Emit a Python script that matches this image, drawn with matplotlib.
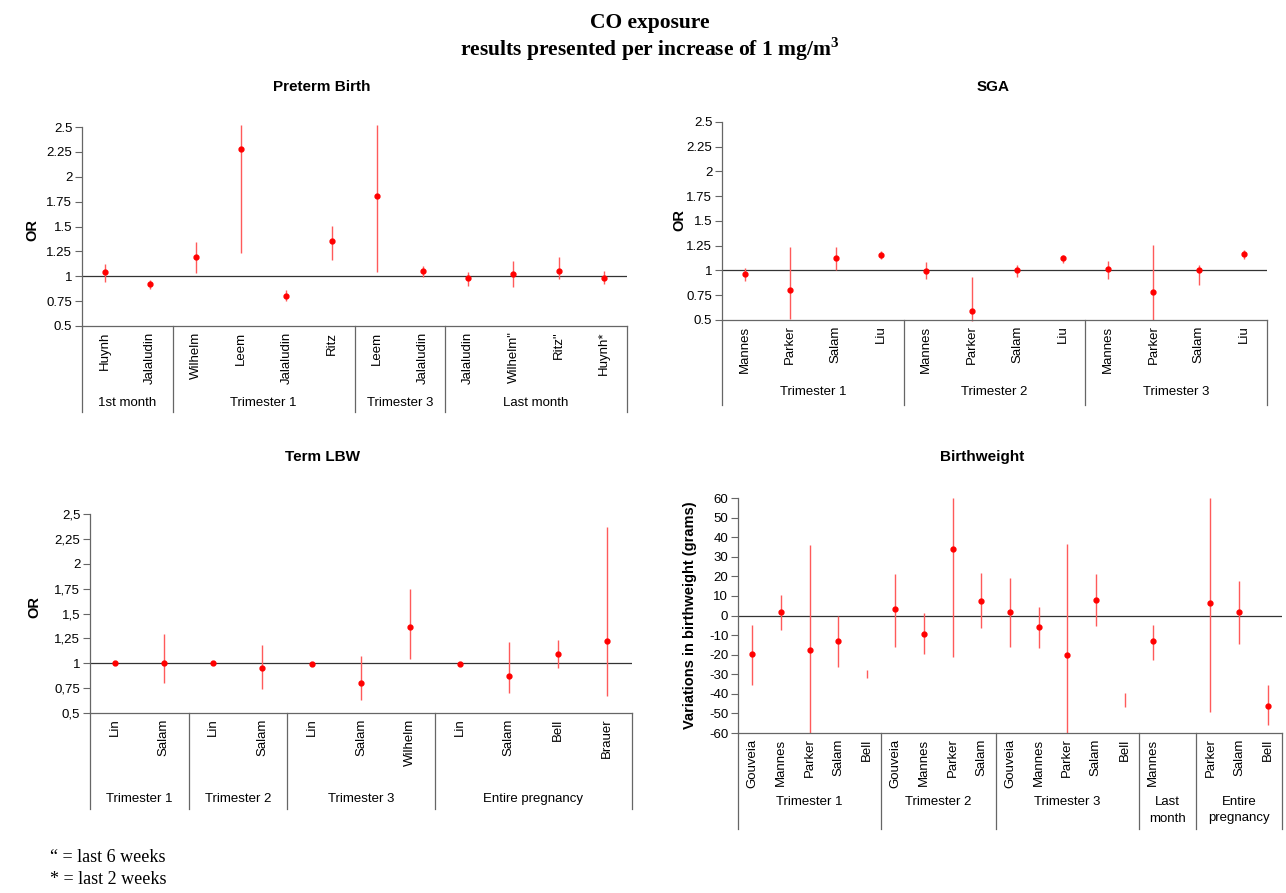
import numpy as np
import matplotlib
matplotlib.use("Agg")
from matplotlib import pyplot as plt
import matplotlib.transforms as mtransforms

plt.rcParams['font.family'] = ['Liberation Sans', 'DejaVu Sans']
plt.rcParams['axes.unicode_minus'] = False
plt.rcParams['mathtext.fontset'] = 'custom'
plt.rcParams['mathtext.bf'] = 'Liberation Serif:bold'
plt.rcParams['mathtext.rm'] = 'Liberation Serif'

# ---- data ----
# Preterm birth
pb_names = ["Huynh", "Jalaludin", "Wilhelm", "Leem", "Jalaludin", "Ritz",
            "Leem", "Jalaludin", "Jalaludin", "Wilhelm\"", "Ritz\"", "Huynh*"]
pb_groups = ["1st month", "Trimester 1", "Trimester 3", "Last month"]
pb_group_sizes = [2, 4, 2, 4]
pb_est = [1.04, 0.92, 1.19, 2.28, 0.80, 1.35, 1.81, 1.05, 0.98, 1.02, 1.05, 0.98]
pb_lo = [0.94, 0.87, 1.03, 1.23, 0.75, 1.16, 1.04, 0.99, 0.90, 0.89, 0.97, 0.92]
pb_hi = [1.12, 0.96, 1.34, 2.52, 0.86, 1.51, 2.52, 1.10, 1.04, 1.15, 1.19, 1.05]

# SGA
sga_names = ["Mannes", "Parker", "Salam", "Liu"] * 3
sga_groups = ["Trimester 1", "Trimester 2", "Trimester 3"]
sga_group_sizes = [4, 4, 4]
sga_est = [0.96, 0.80, 1.13, 1.16, 0.99, 0.59, 1.01, 1.13, 1.02, 0.78, 1.01, 1.17]
sga_lo = [0.89, 0.51, 1.00, 1.12, 0.91, 0.49, 0.93, 1.08, 0.91, 0.50, 0.85, 1.12]
sga_hi = [1.03, 1.24, 1.24, 1.20, 1.09, 0.93, 1.06, 1.16, 1.10, 1.26, 1.06, 1.21]

# Term LBW
lbw_names = ["Lin", "Salam", "Lin", "Salam", "Lin", "Salam", "Wilhelm",
             "Lin", "Salam", "Bell", "Brauer"]
lbw_groups = ["Trimester 1", "Trimester 2", "Trimester 3", "Entire pregnancy"]
lbw_group_sizes = [2, 2, 3, 4]
lbw_est = [1.00, 1.00, 1.00, 0.95, 0.99, 0.80, 1.36, 0.99, 0.87, 1.09, 1.22]
lbw_lo = [0.99, 0.80, 0.99, 0.74, 0.98, 0.63, 1.04, 0.98, 0.70, 0.95, 0.67]
lbw_hi = [1.01, 1.29, 1.01, 1.18, 1.00, 1.07, 1.75, 1.00, 1.21, 1.23, 2.37]
lbw_ticklabels = ["0,5", "0,75", "1", "1,25", "1,5", "1,75", "2", "2,25", "2,5"]

# Birthweight (the "Last month" block has an empty second slot)
bw_names = ["Gouveia", "Mannes", "Parker", "Salam", "Bell",
            "Gouveia", "Mannes", "Parker", "Salam",
            "Gouveia", "Mannes", "Parker", "Salam", "Bell",
            "Mannes", "",
            "Parker", "Salam", "Bell"]
bw_groups = ["Trimester 1", "Trimester 2", "Trimester 3", "Last\nmonth", "Entire\npregnancy"]
bw_group_sizes = [5, 4, 5, 2, 3]
bw_est = [-19.6, 1.7, -17.5, -13.1, np.nan, 3.1, -9.2, 34.1, 7.5,
          1.7, -5.8, -20.1, 8.0, np.nan, -13.1, np.nan, 6.5, 1.7, -46.0]
bw_lo = [-35.3, -7.5, -60, -26.4, -32, -16.2, -19.9, -21.3, -6.6,
         -16.2, -16.7, -60, -5.5, -46.5, -22.5, np.nan, -49.2, -14.3, -56]
bw_hi = [-4.6, 10.4, 35.8, -0.3, -28, 21.1, 1.5, 60, 21.6,
         19.4, 4.4, 36.3, 21.1, -39.4, -4.6, np.nan, 60, 17.5, -35.6]

or_ticklabels = ["0.5", "0.75", "1", "1.25", "1.5", "1.75", "2", "2.25", "2.5"]

W, H = 1286, 893
fig = plt.figure(figsize=(W / 100, H / 100), dpi=100)

RED = '#ff0000'
ERR = '#ff5a5a'
GREY = '#666666'


def px_axes(left, top, right, bottom):
    return fig.add_axes([left / W, 1 - bottom / H, (right - left) / W, (bottom - top) / H])


def panel(ax, names, est, lo, hi, groups, sizes, ylim, yticks, ref,
          sep_y, grp_y, grp_va='center', yticklabels=None):
    x = np.arange(len(names))
    ax.vlines(x, lo, hi, color=ERR, lw=1.0, clip_on=False, zorder=2)
    ax.plot(x, est, 'o', color=RED, ms=3.5, clip_on=False, zorder=3)
    ax.axhline(ref, color='#333333', lw=0.9, zorder=1)
    ax.set_xlim(-0.5, len(names) - 0.5)
    ax.set_ylim(*ylim)
    ax.set_yticks(yticks)
    if yticklabels is not None:
        ax.set_yticklabels(yticklabels)
    ax.set_xticks(x)
    ax.set_xticklabels(names, rotation=90, va='top', fontsize=9.5)
    ax.tick_params(axis='x', length=0, pad=4)
    ax.tick_params(axis='y', length=5, width=0.8, color=GREY, labelsize=9.5, pad=2)
    for s in ['top', 'right']:
        ax.spines[s].set_visible(False)
    for s in ['left', 'bottom']:
        ax.spines[s].set_color(GREY)
        ax.spines[s].set_linewidth(0.9)
    # category table below the axis
    trans = mtransforms.blended_transform_factory(ax.transData, ax.transAxes)
    edges = np.concatenate([[0], np.cumsum(sizes)]) - 0.5
    for e in edges:
        ax.plot([e, e], [0, sep_y], color=GREY, lw=0.9, transform=trans, clip_on=False)
    for g, a, b in zip(groups, edges[:-1], edges[1:]):
        ax.text((a + b) / 2, grp_y, g, transform=trans, ha='center', va=grp_va,
                fontsize=9.5, linespacing=1.45)


ax1 = px_axes(82, 127, 627, 326)
panel(ax1, pb_names, pb_est, pb_lo, pb_hi, pb_groups, pb_group_sizes,
      (0.5, 2.5), np.arange(0.5, 2.51, 0.25), 1.0, -0.432, -0.387,
      yticklabels=or_ticklabels)

ax2 = px_axes(722, 122, 1267, 320)
panel(ax2, sga_names, sga_est, sga_lo, sga_hi, sga_groups, sga_group_sizes,
      (0.5, 2.5), np.arange(0.5, 2.51, 0.25), 1.0, -0.429, -0.364,
      yticklabels=or_ticklabels)

ax3 = px_axes(90, 514, 632, 713)
panel(ax3, lbw_names, lbw_est, lbw_lo, lbw_hi, lbw_groups, lbw_group_sizes,
      (0.5, 2.5), np.arange(0.5, 2.51, 0.25), 1.0, -0.482, -0.432,
      yticklabels=lbw_ticklabels)

ax4 = px_axes(738, 498, 1282, 733)
panel(ax4, bw_names, bw_est, bw_lo, bw_hi, bw_groups, bw_group_sizes,
      (-60, 60), np.arange(-60, 61, 10), 0.0, -0.408, -0.27, grp_va='top')

# y labels
fig.text(32 / W, 1 - 230 / H, "OR", rotation=90, fontsize=10.5, fontweight='bold',
         ha='center', va='center')
fig.text(679 / W, 1 - 220 / H, "OR", rotation=90, fontsize=10.5, fontweight='bold',
         ha='center', va='center')
fig.text(34 / W, 1 - 607 / H, "OR", rotation=90, fontsize=10.5, fontweight='bold',
         ha='center', va='center')
fig.text(690 / W, 1 - 615 / H, "Variations in birthweight (grams)", rotation=90,
         fontsize=10.5, fontweight='bold', ha='center', va='center')

# panel titles
for t, cx, cy in [("Preterm Birth", 322, 87), ("SGA", 993, 87),
                  ("Term LBW", 322, 457), ("Birthweight", 982, 457)]:
    fig.text(cx / W, 1 - cy / H, t, fontsize=11, fontweight='bold', ha='center', va='center')

# main title
fig.text(650 / W, 1 - 23 / H, "CO exposure", family='Liberation Serif',
         fontsize=15.5, fontweight='bold', ha='center', va='center')
fig.text(650 / W, 1 - 49 / H, "results presented per increase of 1 mg/m$^{\\mathbf{3}}$",
         family='Liberation Serif', fontsize=15.5, fontweight='bold', ha='center', va='center')

# footnote
fig.text(50 / W, 1 - 858 / H, "\u201c = last 6 weeks", family='Liberation Serif',
         fontsize=13, ha='left', va='center')
fig.text(50 / W, 1 - 880 / H, "* = last 2 weeks", family='Liberation Serif',
         fontsize=13, ha='left', va='center')

fig.savefig("out.png", dpi=100)
